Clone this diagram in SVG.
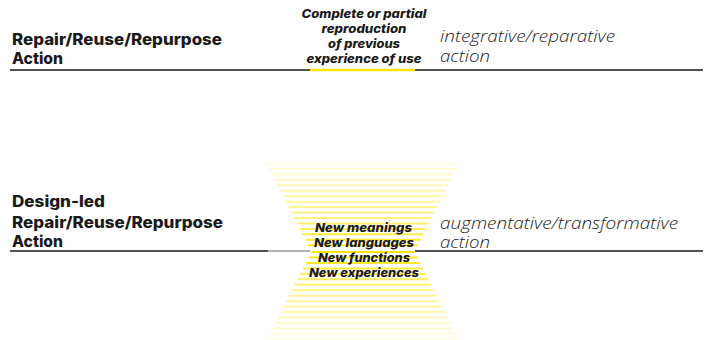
<svg xmlns="http://www.w3.org/2000/svg" width="704" height="340" viewBox="0 0 704 340">
<style>
.lbl{font-family:Inter,"Noto Sans","Liberation Sans",sans-serif;font-weight:800;font-size:15.5px;fill:#1a1a1a}
.typ{font-family:"Open Sans","Noto Sans","Liberation Sans",sans-serif;font-weight:300;font-style:italic;font-size:16.5px;fill:#222}
.mid{font-family:Inter,"Noto Sans","Liberation Sans",sans-serif;font-weight:800;font-style:italic;font-size:12px;fill:#1a1a1a;text-anchor:middle}
.rule{stroke:#1a1a1a;stroke-width:1.5;fill:none}
.hl{stroke:#FFE600;stroke-width:2.5}
.hg path{stroke:url(#fade);stroke-width:2;fill:none}
</style>
<defs>
<linearGradient id="fade" gradientUnits="userSpaceOnUse" x1="0" y1="163" x2="0" y2="340">
<stop offset="0" stop-color="#FFE600" stop-opacity="0.12"/>
<stop offset="0.3" stop-color="#FFE600" stop-opacity="0.5"/>
<stop offset="0.5" stop-color="#FFE600" stop-opacity="1"/>
<stop offset="0.7" stop-color="#FFE600" stop-opacity="0.5"/>
<stop offset="1" stop-color="#FFE600" stop-opacity="0.12"/>
</linearGradient>
</defs>
<rect width="704" height="340" fill="#fff"/>

<g id="connectors">
<line class="rule" x1="10" y1="70" x2="703" y2="70"/>
<line class="hl" x1="310" y1="70" x2="415" y2="70"/>
<line class="rule" x1="10" y1="251" x2="268" y2="251"/>
<line x1="268" y1="251" x2="310" y2="251" stroke="#999" stroke-width="1.5"/>
<line class="rule" x1="415" y1="251" x2="703" y2="251"/>
</g>

<g id="hourglass" class="hg">
<path d="M266.5 163.5H459.5M269.3 168.95H456.7M272.1 174.4H453.9M274.8 179.85H451.2M277.6 185.3H448.4M280.4 190.75H445.6M283.2 196.2H442.8M286 201.65H440M288.7 207.1H437.3M291.5 212.55H434.5M294.3 218H431.7M297.1 223.45H428.9M299.9 228.9H426.1M302.6 234.35H423.4M305.4 239.8H420.6M308.2 245.25H417.8"/>
<path d="M267 339.3H459M269.8 333.85H456.2M272.6 328.4H453.4M275.3 322.95H450.7M278.1 317.5H447.9M280.9 312.05H445.1M283.7 306.6H442.3M286.5 301.15H439.5M289.2 295.7H436.8M292 290.25H434M294.8 284.8H431.2M297.6 279.35H428.4M300.4 273.9H425.6M303.1 268.45H422.9M305.9 263H420.1M308.7 257.55H417.3M311.5 252.1H414.5"/>
</g>

<g id="node-repair">
<text class="lbl" x="12" y="45" textLength="210" lengthAdjust="spacingAndGlyphs">Repair/Reuse/Repurpose</text>
<text class="lbl" x="12" y="64" textLength="51" lengthAdjust="spacingAndGlyphs">Action</text>
</g>

<g id="node-reproduction">
<text class="mid" x="364" y="17.5" textLength="125" lengthAdjust="spacingAndGlyphs">Complete or partial</text>
<text class="mid" x="364" y="32.8" textLength="85" lengthAdjust="spacingAndGlyphs">reproduction</text>
<text class="mid" x="364" y="48" textLength="72" lengthAdjust="spacingAndGlyphs">of previous</text>
<text class="mid" x="364" y="63.3" textLength="115" lengthAdjust="spacingAndGlyphs">experience of use</text>
</g>

<g id="node-integrative">
<text class="typ" x="440" y="42" textLength="175" lengthAdjust="spacingAndGlyphs">integrative/reparative</text>
<text class="typ" x="440" y="62" textLength="50" lengthAdjust="spacingAndGlyphs">action</text>
</g>

<g id="node-designled">
<text class="lbl" x="12" y="207" textLength="93" lengthAdjust="spacingAndGlyphs">Design-led</text>
<text class="lbl" x="12" y="227.5" textLength="211" lengthAdjust="spacingAndGlyphs">Repair/Reuse/Repurpose</text>
<text class="lbl" x="12" y="247" textLength="51" lengthAdjust="spacingAndGlyphs">Action</text>
</g>

<g id="node-new">
<text class="mid" x="363.5" y="231.5" textLength="97" lengthAdjust="spacingAndGlyphs">New meanings</text>
<text class="mid" x="364" y="246.5" textLength="100" lengthAdjust="spacingAndGlyphs">New languages</text>
<text class="mid" x="364" y="262" textLength="92" lengthAdjust="spacingAndGlyphs">New functions</text>
<text class="mid" x="364" y="277" textLength="110" lengthAdjust="spacingAndGlyphs">New experiences</text>
</g>

<g id="node-augmentative">
<text class="typ" x="440" y="229" textLength="238" lengthAdjust="spacingAndGlyphs">augmentative/transformative</text>
<text class="typ" x="440" y="247.5" textLength="50" lengthAdjust="spacingAndGlyphs">action</text>
</g>
</svg>
